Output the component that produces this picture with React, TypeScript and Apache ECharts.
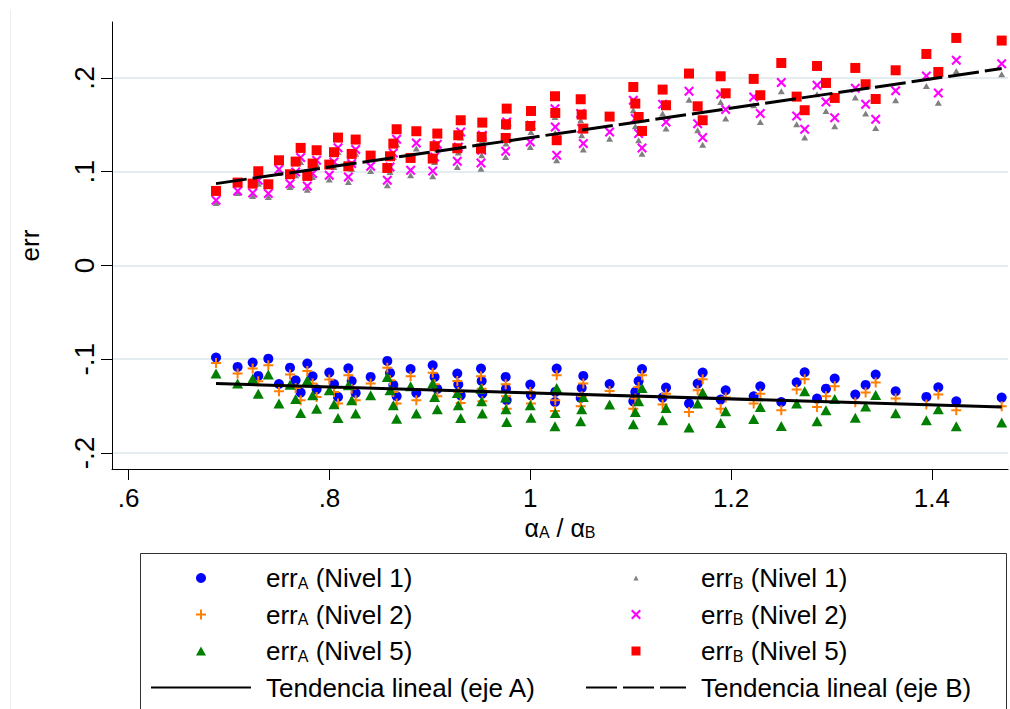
import React, { useEffect, useRef } from "react";
import * as echarts from "echarts";

// alpha_A / alpha_B ratio for each observation
const ratio = [
  0.6870, 0.7085, 0.7235, 0.7291, 0.7391, 0.7497, 0.7607, 0.7663, 0.7713, 0.7779,
  0.7832, 0.7872, 0.7998, 0.8045, 0.8085, 0.8188, 0.8221, 0.8261, 0.8410, 0.8576,
  0.8603, 0.8636, 0.8669, 0.8808, 0.8865, 0.9028, 0.9047, 0.9074, 0.9273, 0.9283,
  0.9307, 0.9509, 0.9516, 0.9522, 0.9755, 0.9758, 0.9765, 1.0000, 1.0007, 1.0263,
  1.0249, 1.0246, 1.0528, 1.0512, 1.0502, 1.0790, 1.1026, 1.1046, 1.1079, 1.1113,
  1.1318, 1.1352, 1.1581, 1.1667, 1.1717, 1.1896, 1.1946, 1.2225, 1.2291, 1.2500,
  1.2653, 1.2733, 1.2856, 1.2945, 1.3032, 1.3237, 1.3340, 1.3440, 1.3639, 1.3945,
  1.4064, 1.4243, 1.4695,
];

const errA1 = [
  -0.0983, -0.1082, -0.1036, -0.1178, -0.0994, -0.1264, -0.1090, -0.1225, -0.1356, -0.1047,
  -0.1182, -0.1321, -0.1143, -0.1264, -0.1402, -0.1097, -0.1232, -0.1360, -0.1189, -0.1018,
  -0.1146, -0.1274, -0.1395, -0.1104, -0.1360, -0.1065, -0.1189, -0.1317, -0.1153, -0.1271,
  -0.1385, -0.1100, -0.1232, -0.1367, -0.1189, -0.1314, -0.1438, -0.1271, -0.1385, -0.1100,
  -0.1349, -0.1456, -0.1178, -0.1306, -0.1413, -0.1264, -0.1449, -0.1349, -0.1232, -0.1104,
  -0.1409, -0.1303, -0.1473, -0.1260, -0.1143, -0.1431, -0.1331, -0.1395, -0.1289, -0.1456,
  -0.1246, -0.1139, -0.1420, -0.1314, -0.1207, -0.1377, -0.1274, -0.1164, -0.1342, -0.1402,
  -0.1299, -0.1449, -0.1409,
];

const errA2 = [
  -0.1040, -0.1153, -0.1100, -0.1235, -0.1065, -0.1342, -0.1164, -0.1306, -0.1438, -0.1125,
  -0.1260, -0.1402, -0.1217, -0.1349, -0.1473, -0.1171, -0.1314, -0.1438, -0.1260, -0.1090,
  -0.1225, -0.1349, -0.1473, -0.1182, -0.1438, -0.1143, -0.1267, -0.1395, -0.1232, -0.1349,
  -0.1466, -0.1182, -0.1314, -0.1449, -0.1267, -0.1395, -0.1527, -0.1349, -0.1473, -0.1171,
  -0.1438, -0.1552, -0.1260, -0.1395, -0.1502, -0.1338, -0.1527, -0.1420, -0.1296, -0.1171,
  -0.1484, -0.1367, -0.1562, -0.1331, -0.1214, -0.1527, -0.1409, -0.1473, -0.1367, -0.1545,
  -0.1324, -0.1214, -0.1509, -0.1395, -0.1289, -0.1459, -0.1356, -0.1249, -0.1420, -0.1484,
  -0.1377, -0.1545, -0.1502,
];

const errA5 = [
  -0.1153, -0.1260, -0.1207, -0.1367, -0.1164, -0.1473, -0.1271, -0.1424, -0.1573, -0.1225,
  -0.1385, -0.1527, -0.1331, -0.1481, -0.1626, -0.1278, -0.1438, -0.1580, -0.1385, -0.1189,
  -0.1331, -0.1491, -0.1634, -0.1289, -0.1580, -0.1260, -0.1402, -0.1534, -0.1360, -0.1491,
  -0.1626, -0.1314, -0.1449, -0.1580, -0.1409, -0.1534, -0.1669, -0.1491, -0.1623, -0.1306,
  -0.1573, -0.1715, -0.1402, -0.1534, -0.1662, -0.1484, -0.1694, -0.1562, -0.1449, -0.1306,
  -0.1651, -0.1520, -0.1729, -0.1473, -0.1356, -0.1680, -0.1555, -0.1637, -0.1509, -0.1712,
  -0.1473, -0.1342, -0.1662, -0.1545, -0.1424, -0.1623, -0.1505, -0.1381, -0.1576, -0.1651,
  -0.1534, -0.1715, -0.1676,
];

const errB1 = [
  0.0667, 0.0774, 0.0742, 0.0873, 0.0731, 0.0987, 0.0838, 0.0962, 0.1104, 0.0809,
  0.0944, 0.1080, 0.0916, 0.1051, 0.1211, 0.0891, 0.1033, 0.1193, 0.1008, 0.0856,
  0.0998, 0.1158, 0.1293, 0.0962, 0.1247, 0.0952, 0.1104, 0.1236, 0.1051, 0.1204,
  0.1364, 0.1033, 0.1176, 0.1336, 0.1158, 0.1300, 0.1478, 0.1264, 0.1424, 0.1122,
  0.1414, 0.1584, 0.1236, 0.1389, 0.1549, 0.1353, 0.1656, 0.1485, 0.1336, 0.1193,
  0.1620, 0.1460, 0.1769, 0.1442, 0.1289, 0.1744, 0.1567, 0.1709, 0.1531, 0.1858,
  0.1506, 0.1364, 0.1826, 0.1648, 0.1485, 0.1791, 0.1620, 0.1467, 0.1762, 0.1915,
  0.1737, 0.2075, 0.2040,
];

const errB2 = [
  0.0696, 0.0795, 0.0774, 0.0909, 0.0767, 0.1026, 0.0873, 0.0998, 0.1151, 0.0848,
  0.0980, 0.1122, 0.0962, 0.1104, 0.1257, 0.0944, 0.1087, 0.1236, 0.1058, 0.0909,
  0.1051, 0.1200, 0.1346, 0.1016, 0.1307, 0.1008, 0.1158, 0.1293, 0.1112, 0.1264,
  0.1424, 0.1094, 0.1229, 0.1389, 0.1218, 0.1353, 0.1531, 0.1318, 0.1496, 0.1176,
  0.1478, 0.1673, 0.1300, 0.1460, 0.1620, 0.1424, 0.1762, 0.1567, 0.1407, 0.1254,
  0.1720, 0.1531, 0.1858, 0.1513, 0.1364, 0.1826, 0.1663, 0.1798, 0.1620, 0.1951,
  0.1595, 0.1453, 0.1922, 0.1744, 0.1577, 0.1890, 0.1720, 0.1560, 0.1865, 0.2022,
  0.1840, 0.2189, 0.2153,
];

const errB5 = [
  0.0795, 0.0884, 0.0873, 0.1005, 0.0866, 0.1122, 0.0973, 0.1108, 0.1254, 0.0955,
  0.1087, 0.1229, 0.1076, 0.1208, 0.1364, 0.1058, 0.1190, 0.1343, 0.1172, 0.1040,
  0.1165, 0.1300, 0.1453, 0.1147, 0.1432, 0.1140, 0.1272, 0.1407, 0.1250, 0.1389,
  0.1549, 0.1247, 0.1371, 0.1524, 0.1360, 0.1506, 0.1673, 0.1488, 0.1648, 0.1336,
  0.1627, 0.1805, 0.1460, 0.1609, 0.1773, 0.1588, 0.1904, 0.1727, 0.1584, 0.1435,
  0.1876, 0.1709, 0.2047, 0.1698, 0.1549, 0.2018, 0.1837, 0.1990, 0.1816, 0.2160,
  0.1801, 0.1656, 0.2128, 0.1947, 0.1787, 0.2107, 0.1933, 0.1776, 0.2082, 0.2256,
  0.2064, 0.2427, 0.2399,
];

// fitted linear trends (end points)
const trendAx = [0.687, 1.4695];
const trendAy = [-0.126, -0.1509];
const trendBx = [0.687, 1.4695];
const trendBy = [0.0873, 0.21];

const xTicks = [0.6, 0.8, 1, 1.2, 1.4];
const yTicks = [-0.2, -0.1, 0, 0.1, 0.2];

const NAME_A1 = "errA (Nivel 1)";
const NAME_A2 = "errA (Nivel 2)";
const NAME_A5 = "errA (Nivel 5)";
const NAME_B1 = "errB (Nivel 1)";
const NAME_B2 = "errB (Nivel 2)";
const NAME_B5 = "errB (Nivel 5)";
const NAME_TA = "Tendencia lineal (eje A)";
const NAME_TB = "Tendencia lineal (eje B)";

const FONT = '"Liberation Sans", Arial, Helvetica, sans-serif';
const PLUS = "path://M4,0H6V4H10V6H6V10H4V6H0V4H4Z";
const CROSS =
  "path://M0,1.5L1.5,0L5,3.5L8.5,0L10,1.5L6.5,5L10,8.5L8.5,10L5,6.5L1.5,10L0,8.5L3.5,5Z";
// legend keys drawn inside a 10x10 box
const SMALL_TRI = "path://M0,0M10,10M2.4,7.6L5,2.6L7.6,7.6Z";
const TRI_KEY = "path://M0,0M10,10M0,9.5L5,0.5L10,9.5Z";
const SQUARE_KEY = "path://M0,0M10,10M0.5,0.5H9.5V9.5H0.5Z";

function fmtTick(v: number): string {
  if (v === 0) return "0";
  const s = String(Math.abs(v)).replace(/^0\./, ".");
  return (v < 0 ? "-" : "") + s;
}

function pts(xs: number[], ys: number[]) {
  const n = Math.min(xs.length, ys.length);
  const out: number[][] = [];
  for (let i = 0; i < n; i++) out.push([xs[i], ys[i]]);
  return out;
}

function legendLabel(name: string): string {
  return "{p| }" + name.replace(/^err([AB])/, "err{s|$1}");
}

const legendText = {
  fontFamily: FONT,
  fontSize: 26,
  color: "#000",
  rich: {
    p: { width: 10, fontSize: 26, fontFamily: FONT },
    s: { fontFamily: FONT, fontSize: 16, color: "#000", verticalAlign: "bottom", lineHeight: 10 },
  },
};

export default function App() {
  const ref = useRef<HTMLDivElement | null>(null);

  useEffect(() => {
    if (!ref.current) return;
    const chart = echarts.init(ref.current, undefined, { renderer: "svg" });

    const scatter = (name: string, ys: number[], symbol: string, size: any, color: string) => ({
      name,
      type: "scatter",
      data: pts(ratio, ys),
      symbol,
      symbolSize: size,
      symbolKeepAspect: true,
      itemStyle: { color, opacity: 1 },
      emphasis: { disabled: true },
      z: 2,
    });

    const legendCommon = {
      orient: "vertical",
      top: 565,
      padding: 0,
      itemWidth: 100,
      itemHeight: 10,
      itemGap: 10.5,
      symbolKeepAspect: true,
      selectedMode: false,
      formatter: legendLabel,
      textStyle: legendText,
    };

    const option: any = {
      animation: false,
      backgroundColor: "#ffffff",
      textStyle: { fontFamily: FONT },
      grid: { left: 112, top: 22, right: 2, bottom: 240, containLabel: false },
      xAxis: {
        type: "value",
        min: 0.5834,
        max: 1.4758,
        axisLine: { show: true, onZero: false, lineStyle: { color: "#000", width: 1 } },
        axisTick: { show: true, length: 11, customValues: xTicks, lineStyle: { color: "#000", width: 1 } },
        axisLabel: {
          customValues: xTicks,
          formatter: fmtTick,
          fontSize: 26,
          color: "#000",
          fontFamily: FONT,
          margin: 16,
        },
        splitLine: { show: false },
        name: "α{s|A} / α{s|B}",
        nameLocation: "middle",
        nameGap: 46,
        nameMoveOverlap: false,
        nameTextStyle: {
          fontFamily: FONT,
          fontSize: 25,
          color: "#000",
          rich: {
            s: { fontFamily: FONT, fontSize: 16, color: "#000", verticalAlign: "bottom", lineHeight: 15 },
          },
        },
      },
      yAxis: {
        type: "value",
        min: -0.2171,
        max: 0.2597,
        axisLine: { show: true, onZero: false, lineStyle: { color: "#000", width: 1 } },
        axisTick: { show: true, length: 11, customValues: yTicks, lineStyle: { color: "#000", width: 1 } },
        axisLabel: {
          customValues: yTicks,
          formatter: fmtTick,
          rotate: 90,
          fontSize: 28,
          color: "#000",
          fontFamily: FONT,
          margin: 14,
        },
        splitLine: { show: true, lineStyle: { color: "#e4edf0", width: 2 } },
        name: "err",
        nameLocation: "middle",
        nameGap: 69,
        nameTextStyle: { fontFamily: FONT, fontSize: 26, color: "#000" },
      },
      legend: [
        {
          ...legendCommon,
          left: 150,
          data: [
            { name: NAME_A1 },
            { name: NAME_A2 },
            { name: NAME_A5, icon: TRI_KEY },
            { name: NAME_TA, itemStyle: { opacity: 0 } },
          ],
        },
        {
          ...legendCommon,
          left: 585,
          data: [
            { name: NAME_B1, icon: SMALL_TRI },
            { name: NAME_B2 },
            { name: NAME_B5, icon: SQUARE_KEY },
            { name: NAME_TB, itemStyle: { opacity: 0 } },
          ],
        },
      ],
      graphic: [
        {
          type: "line",
          shape: { x1: 10.5, y1: 10, x2: 10.5, y2: 709 },
          style: { stroke: "#eeeeee", lineWidth: 1 },
          silent: true,
        },
        {
          type: "rect",
          shape: { x: 140.5, y: 553.5, width: 866, height: 200 },
          style: { fill: "none", stroke: "#333333", lineWidth: 1 },
          silent: true,
          z: -1,
        },
      ],
      series: [
        scatter(NAME_A1, errA1, "circle", 10, "#0000ff"),
        scatter(NAME_A2, errA2, PLUS, 10, "#ff7f00"),
        scatter(NAME_A5, errA5, "triangle", [11, 10], "#007f00"),
        scatter(NAME_B1, errB1, "triangle", [7, 6], "#808080"),
        scatter(NAME_B2, errB2, CROSS, 10, "#ff00ff"),
        scatter(NAME_B5, errB5, "rect", 10, "#ff0000"),
        {
          name: NAME_TA,
          type: "line",
          data: pts(trendAx, trendAy),
          symbol: "none",
          showSymbol: false,
          lineStyle: { color: "#000", width: 3, type: "solid" },
          itemStyle: { color: "#000" },
          emphasis: { disabled: true },
          z: 3,
        },
        {
          name: NAME_TB,
          type: "line",
          data: pts(trendBx, trendBy),
          symbol: "none",
          showSymbol: false,
          lineStyle: { color: "#000", width: 3, type: [31, 6] },
          itemStyle: { color: "#000" },
          emphasis: { disabled: true },
          z: 3,
        },
      ],
    };

    chart.setOption(option);
    return () => {
      chart.dispose();
    };
  }, []);

  return (
    <div
      ref={ref}
      style={{ position: "fixed", left: 0, top: 0, width: 1010, height: 709, background: "#fff" }}
    />
  );
}
